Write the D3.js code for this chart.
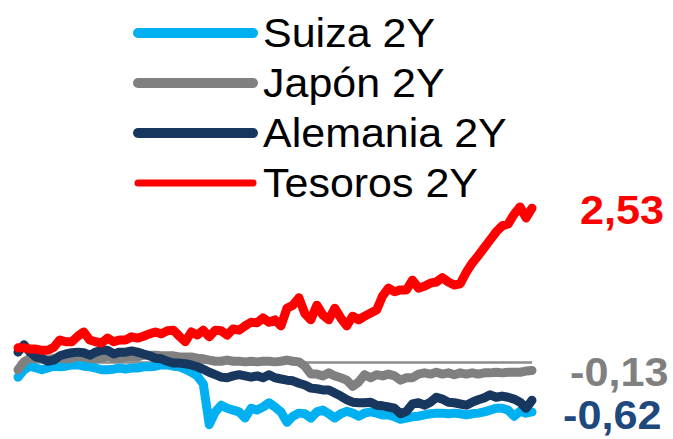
<!DOCTYPE html>
<html>
<head>
<meta charset="utf-8">
<script src="https://cdn.jsdelivr.net/npm/d3@7"></script>
<style>
  html, body { margin: 0; padding: 0; background: #fff; }
  svg { display: block; font-family: "Liberation Sans", Arial, sans-serif; }
</style>
</head>
<body>
<svg id="chart" width="673" height="439"></svg>
<script>
// series, one value per step (2013 -> mid 2018)
const suiza = [-0.24,-0.12,-0.06,-0.09,-0.12,-0.09,-0.06,-0.07,-0.06,-0.04,-0.04,-0.06,-0.07,-0.09,-0.12,-0.12,-0.11,-0.09,-0.11,-0.09,
  -0.09,-0.07,-0.07,-0.06,-0.04,-0.04,-0.06,-0.07,-0.11,-0.16,-0.22,-0.35,-1.02,-0.81,-0.70,-0.75,-0.78,-0.81,-0.91,-0.75,
  -0.78,-0.73,-0.66,-0.73,-0.81,-0.98,-0.88,-0.83,-0.84,-0.91,-0.81,-0.78,-0.84,-0.91,-0.84,-0.80,-0.83,-0.88,-0.83,-0.81,
  -0.83,-0.86,-0.86,-0.89,-0.93,-0.91,-0.89,-0.88,-0.86,-0.84,-0.83,-0.83,-0.84,-0.83,-0.84,-0.86,-0.84,-0.83,-0.81,-0.78,
  -0.75,-0.75,-0.78,-0.88,-0.80,-0.83,-0.81];
const japon = [-0.12,0.01,0.07,0.07,0.06,0.04,0.07,0.07,0.06,0.07,0.11,0.09,0.07,0.06,0.07,0.11,0.07,0.07,0.09,0.09,
  0.09,0.12,0.12,0.12,0.11,0.11,0.11,0.09,0.09,0.09,0.07,0.06,0.04,0.02,0.02,0.04,0.02,0.02,0.01,0.02,
  0.01,0.02,0.02,0.01,0.02,0.04,0.02,0.01,-0.06,-0.19,-0.19,-0.22,-0.17,-0.22,-0.25,-0.29,-0.39,-0.32,-0.20,-0.25,
  -0.20,-0.22,-0.19,-0.22,-0.29,-0.25,-0.25,-0.19,-0.17,-0.19,-0.16,-0.19,-0.17,-0.20,-0.17,-0.19,-0.17,-0.19,-0.17,-0.17,
  -0.16,-0.17,-0.16,-0.16,-0.16,-0.14,-0.13];
const alemania = [0.17,0.29,0.17,0.09,0.07,0.02,0.04,0.11,0.14,0.16,0.17,0.16,0.12,0.17,0.20,0.20,0.14,0.17,0.17,0.19,
  0.17,0.14,0.11,0.07,0.06,0.02,-0.01,-0.01,-0.02,-0.04,-0.07,-0.11,-0.16,-0.20,-0.24,-0.25,-0.22,-0.20,-0.22,-0.24,
  -0.22,-0.25,-0.20,-0.25,-0.27,-0.29,-0.30,-0.34,-0.37,-0.42,-0.43,-0.45,-0.45,-0.50,-0.55,-0.61,-0.65,-0.66,-0.66,-0.65,
  -0.70,-0.71,-0.73,-0.75,-0.84,-0.80,-0.68,-0.66,-0.70,-0.65,-0.57,-0.60,-0.65,-0.66,-0.68,-0.70,-0.65,-0.61,-0.58,-0.53,
  -0.57,-0.55,-0.57,-0.60,-0.65,-0.75,-0.62];
const tesoros = [0.24,0.24,0.22,0.22,0.20,0.20,0.25,0.37,0.34,0.34,0.43,0.50,0.37,0.34,0.32,0.40,0.34,0.37,0.37,0.42,
  0.40,0.43,0.47,0.50,0.47,0.52,0.53,0.43,0.34,0.50,0.45,0.53,0.42,0.53,0.52,0.45,0.55,0.53,0.60,0.66,
  0.65,0.73,0.66,0.70,0.60,0.89,0.94,1.06,0.80,0.70,0.94,0.78,0.70,0.89,0.73,0.60,0.76,0.70,0.76,0.81,
  0.86,1.09,1.22,1.16,1.19,1.19,1.35,1.22,1.25,1.30,1.32,1.39,1.32,1.27,1.29,1.48,1.63,1.75,1.88,2.01,
  2.14,2.24,2.27,2.43,2.55,2.37,2.53];

const names = ['Suiza 2Y', 'Japón 2Y', 'Alemania 2Y', 'Tesoros 2Y'];
const colors = ['#00b0f0', '#808080', '#17375e', '#ff0000'];
const endLabels = ['-0,13', '-0,62', '2,53'];
const endColors = ['#808080', '#1f497d', '#ff0000'];

const svg = d3.select('#chart');
const allSeries = [suiza, japon, alemania, tesoros];

var xs = d3.scaleLinear().domain([0, tesoros.length - 1]).range([18, 532]);
var ys = d3.scaleLinear().domain([-1.1, 2.6]).range([429.6, 203.9]);

// zero line
svg.append('line')
    .attr('x1', xs(0)).attr('x2', xs(tesoros.length - 1))
    .attr('y1', ys(0)).attr('y2', ys(0))
    .attr('stroke', '#8c8c8c')
    .attr('stroke-width', 2.5);

const line = d3.line()
    .x((d, i) => xs(i))
    .y(d => ys(d))
    .curve(d3.curveLinear);

svg.selectAll('.serie').data(allSeries).enter()
    .append('path')
    .attr('class', 'serie')
    .attr('d', line)
    .attr('fill', 'none')
    .attr('stroke', (d, i) => colors[i])
    .attr('stroke-width', 9)
    .attr('stroke-linejoin', 'round')
    .attr('stroke-linecap', 'round');

// legend
const legend = svg.selectAll('.legend').data(names).enter()
    .append('g')
    .attr('class', 'legend')
    .attr('transform', (d, i) => `translate(0,${33 + i * 50})`);

legend.append('line')
    .attr('x1', 138).attr('x2', 253)
    .attr('y1', 0).attr('y2', 0)
    .attr('stroke', (d, i) => colors[i])
    .attr('stroke-width', (d, i) => i === 3 ? 7 : 10)
    .attr('stroke-linecap', 'round');

legend.append('text')
    .attr('transform', 'translate(263,14) scale(1.075,1)')
    .attr('font-size', 40)
    .attr('fill', '#000')
    .text(d => d);

// end value labels
const labelPos = [{x: 570, y: 386}, {x: 563, y: 429}, {x: 580, y: 224}];
svg.selectAll('.endlabel').data(endLabels).enter()
    .append('text')
    .attr('class', 'endlabel')
    .attr('transform', (d, i) => `translate(${labelPos[i].x},${labelPos[i].y}) scale(1.08,1)`)
    .attr('font-size', 40)
    .attr('font-weight', 'bold')
    .attr('fill', (d, i) => endColors[i])
    .text(d => d);
</script>
</body>
</html>
